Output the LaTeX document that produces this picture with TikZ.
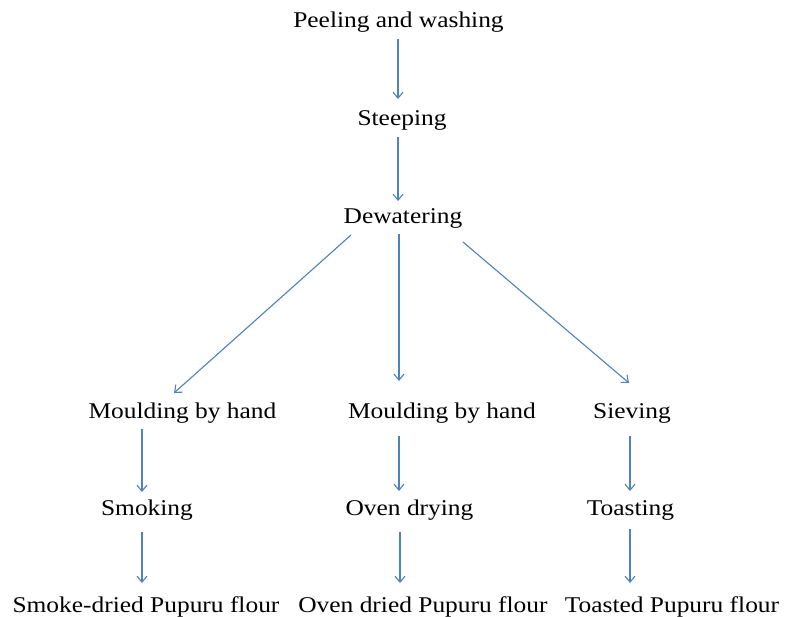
\documentclass[tikz,border=0pt]{standalone}
\usepackage{fontspec}
\setmainfont{Liberation Serif}[FakeStretch=1.13]
\usetikzlibrary{arrows.meta,calc}
\definecolor{arrblue}{RGB}{79,129,189}
\begin{document}
\begin{tikzpicture}[x=1pt,y=-1pt,
  lbl/.style={anchor=base,inner sep=0pt,font=\fontsize{22.5}{27}\selectfont},
  arr/.style={draw=arrblue,line width=1.1pt,-{Straight Barb[length=6pt,width=10pt]}}]
\fill[white] (0,0) rectangle (786,616);
\useasboundingbox (0,0) rectangle (786,616);
\node[lbl] (peel) at (398.5,27) {Peeling and washing};
\node[lbl] (steep) at (402,125) {Steeping};
\node[lbl] (dew) at (403,223) {Dewatering};
\node[lbl] (mL) at (182.5,418) {Moulding by hand};
\node[lbl] (mM) at (442,418) {Moulding by hand};
\node[lbl] (siev) at (632,418) {Sieving};
\node[lbl] (smok) at (147,515) {Smoking};
\node[lbl] (oven) at (409.5,515) {Oven drying};
\node[lbl] (toast) at (630.5,515) {Toasting};
\node[lbl] (fS) at (146,612) {Smoke-dried Pupuru flour};
\node[lbl] (fO) at (423,612) {Oven dried Pupuru flour};
\node[lbl] (fT) at (672,612) {Toasted Pupuru flour};
\draw[arr] ($(peel.base)+(-0.5,12)$) -- ($(steep.base)+(-4,-26)$);
\draw[arr] ($(steep.base)+(-4,12)$) -- ($(dew.base)+(-5,-22)$);
\draw[arr] ($(dew.base)+(-52,12)$) -- ($(mL.base)+(-8.5,-25)$);
\draw[arr] ($(dew.base)+(-4,11)$) -- ($(mM.base)+(-43,-37)$);
\draw[arr] ($(dew.base)+(60,19)$) -- ($(siev.base)+(-3,-35)$);
\draw[arr] ($(mL.base)+(-40.5,11)$) -- ($(smok.base)+(-5,-23)$);
\draw[arr] ($(smok.base)+(-5,17)$) -- ($(fS.base)+(-4,-29)$);
\draw[arr] ($(mM.base)+(-43,18)$) -- ($(oven.base)+(-10.5,-24)$);
\draw[arr] ($(oven.base)+(-9.5,17)$) -- ($(fO.base)+(-23,-29)$);
\draw[arr] ($(siev.base)+(-2,18)$) -- ($(toast.base)+(-0.5,-24)$);
\draw[arr] ($(toast.base)+(-0.5,14)$) -- ($(fT.base)+(-42,-29)$);
\end{tikzpicture}
\end{document}
